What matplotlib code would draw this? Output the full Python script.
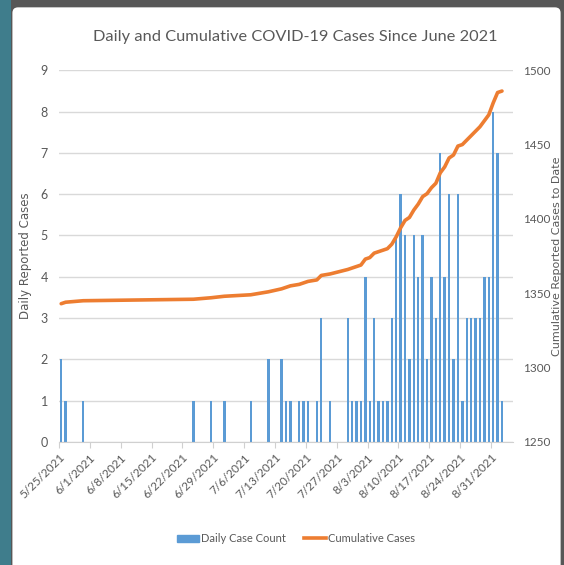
import datetime as dt

import numpy as np
import matplotlib
matplotlib.use("Agg")
import matplotlib.pyplot as plt
from matplotlib.patches import Rectangle, FancyBboxPatch
from matplotlib.lines import Line2D

plt.rcParams['font.family'] = ['Lato', 'DejaVu Sans']

# Data (day offsets from 5/25/2021)
START = dt.date(2021, 5, 25)
case_days = [0, 1, 5, 30, 34, 37, 43, 47, 50, 51, 52, 54, 55, 56, 58, 59, 61,
             65, 66, 67, 68, 69, 70, 71, 72, 73, 74, 75, 76, 77, 78, 79, 80,
             81, 82, 83, 84, 85, 86, 87, 88, 89, 90, 91, 92, 93, 94, 95, 96,
             97, 98, 99, 100]
daily_cases = [2, 1, 1, 1, 1, 1, 1, 2, 2, 1, 1, 1, 1, 1, 1, 3, 1,
               3, 1, 1, 1, 4, 1, 3, 1, 1, 1, 3, 5, 6, 5, 2, 5,
               4, 5, 2, 4, 3, 7, 4, 6, 2, 6, 1, 3, 3, 3, 3, 4,
               4, 8, 7, 1]
cumulative_cases = [1343, 1344, 1345, 1346, 1347, 1348, 1349, 1351, 1353, 1354,
                    1355, 1356, 1357, 1358, 1359, 1362, 1363, 1366, 1367, 1368,
                    1369, 1373, 1374, 1377, 1378, 1379, 1380, 1383, 1388, 1394,
                    1399, 1401, 1406, 1410, 1415, 1417, 1421, 1424, 1431, 1435,
                    1441, 1443, 1449, 1450, 1453, 1456, 1459, 1462, 1466, 1470,
                    1478, 1485, 1486]
tick_days = list(range(0, 99, 7))
tick_labels = [f"{d.month}/{d.day}/{d.year}"
               for d in (START + dt.timedelta(days=k) for k in tick_days)]

GRAY = '#595959'
BLUE = '#5b9bd5'
ORANGE = '#ed7d31'

fig = plt.figure(figsize=(5.64, 5.65), dpi=100, facecolor='#575757')
# slide frame: teal strip on the left, white panel
fig.patches.append(Rectangle((0, 0), 0.02, 1, transform=fig.transFigure,
                             facecolor='#3f7d8c', edgecolor='none', zorder=-2))
fig.patches.append(FancyBboxPatch((0.022, -0.02), 0.972, 1.007,
                                  boxstyle='round,pad=0,rounding_size=0.01',
                                  transform=fig.transFigure, facecolor='white',
                                  edgecolor='none', zorder=-1))

ax = fig.add_axes([0.1046, 0.2177, 0.805, 0.658])
ax.set_facecolor('none')
x = np.array(case_days) + 0.5
ax.bar(x, daily_cases, width=0.55, color=BLUE, zorder=2)
ax.set_ylim(0, 9)
ax.set_yticks(range(0, 10))
ax.set_xlim(0, 103)
ax.grid(axis='y', color='#d9d9d9', linewidth=1, zorder=0)
ax.set_axisbelow(True)
for s in ['top', 'right', 'left']:
    ax.spines[s].set_visible(False)
ax.spines['bottom'].set_color('#d0d0d0')
ax.set_xticks(tick_days)
ax.set_xticklabels(tick_labels, rotation=45, ha='right', va='top',
                   rotation_mode='anchor', fontsize=8.5, color=GRAY)
ax.tick_params(axis='x', length=4, color='#d0d0d0', pad=3)
ax.tick_params(axis='y', length=0, labelsize=9, labelcolor=GRAY, pad=8)
ax.set_ylabel('Daily Reported Cases', family='DejaVu Sans', fontsize=8.5,
              color=GRAY, labelpad=6)

ax2 = ax.twinx()
ax2.plot(x, cumulative_cases, color=ORANGE, linewidth=2.6,
         solid_capstyle='round', zorder=3)
ax2.set_ylim(1250, 1500)
ax2.set_yticks(range(1250, 1501, 50))
for s in ax2.spines.values():
    s.set_visible(False)
ax2.tick_params(axis='y', length=0, labelsize=8.5, labelcolor=GRAY, pad=7)
fig.text(0.987, 0.5466, 'Cumulative Reported Cases to Date', family='DejaVu Sans',
         fontsize=8, color=GRAY, rotation=90, ha='center', va='center')

fig.text(0.523, 0.935, 'Daily and Cumulative COVID-19 Cases Since June 2021',
         ha='center', va='center', fontsize=11.8, color=GRAY)

handles = [Rectangle((0, 0), 1, 1, color=BLUE),
           Line2D([], [], color=ORANGE, linewidth=2.6)]
fig.legend(handles, ['Daily Case Count', 'Cumulative Cases'],
           loc='center', bbox_to_anchor=(0.525, 0.047), ncol=2, frameon=False,
           fontsize=8, labelcolor=GRAY, handlelength=2.0, handleheight=0.6,
           columnspacing=1.6, handletextpad=0.2)

fig.savefig('out.png', dpi=100, facecolor=fig.get_facecolor())
